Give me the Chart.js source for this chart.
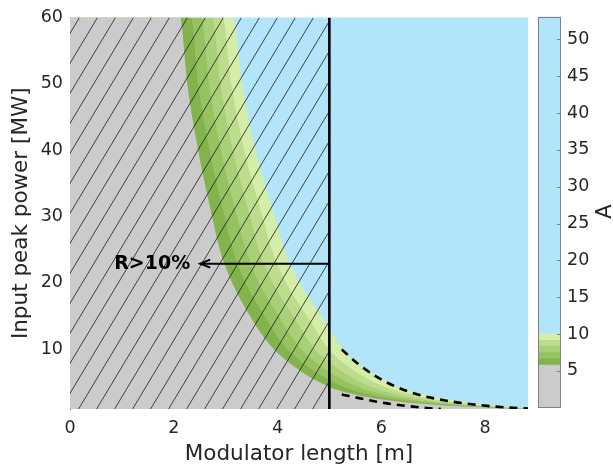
<!DOCTYPE html>
<html>
<head>
<meta charset="utf-8">
<script src="https://cdn.jsdelivr.net/npm/chart.js@4.4.1/dist/chart.umd.min.js"></script>
<style>
  html, body { margin: 0; padding: 0; background: #fff; }
  #wrap { position: relative; width: 613px; height: 468px; }
  #main { position: absolute; left: 0; top: 0; }
  #cbar { position: absolute; left: 530px; top: 0; }
</style>
</head>
<body>
<div id="wrap">
  <canvas id="main" width="613" height="468"></canvas>
  <canvas id="cbar" width="83" height="468"></canvas>
</div>
<script>
// axis ticks
var xTicks = [0, 2, 4, 6, 8];
var yTicks = [10, 20, 30, 40, 50, 60];
var cbTicks = [5, 10, 15, 20, 25, 30, 35, 40, 45, 50];

// input peak power values where the contour edges were read [MW]
var powerLevels = [60, 50, 40, 30, 25, 20, 15, 12, 10, 8, 6, 5, 4, 3, 2.5, 2, 1.5, 1.2, 1];

// modulator length of each contour edge at those powers [m]
var edgeA58 = [2.12, 2.26, 2.47, 2.74, 2.89, 3.13, 3.47, 3.72, 3.93, 4.22, 4.58, 4.82, 5.10, 5.60, 5.95, 6.45, 7.25, 8.10, 8.70];
var edgeA66 = [2.33, 2.47, 2.69, 2.98, 3.14, 3.39, 3.75, 3.99, 4.19, 4.48, 4.85, 5.09, 5.38, 5.88, 6.22, 6.70, 7.46, 8.22, 8.76];
var edgeA75 = [2.53, 2.68, 2.91, 3.22, 3.39, 3.65, 4.02, 4.26, 4.46, 4.74, 5.12, 5.35, 5.65, 6.14, 6.47, 6.94, 7.65, 8.34, 8.82];
var edgeA83 = [2.74, 2.90, 3.14, 3.47, 3.64, 3.91, 4.30, 4.54, 4.72, 5.00, 5.38, 5.61, 5.92, 6.40, 6.72, 7.17, 7.84, 8.46, 8.88];
var edgeA92 = [2.94, 3.11, 3.36, 3.71, 3.89, 4.17, 4.57, 4.81, 4.99, 5.26, 5.64, 5.87, 6.18, 6.66, 6.97, 7.40, 8.03, 8.58, 8.94];
var edgeA10 = [3.15, 3.32, 3.58, 3.95, 4.13, 4.43, 4.85, 5.08, 5.26, 5.52, 5.90, 6.13, 6.44, 6.92, 7.22, 7.63, 8.22, 8.70, 9.00];

// dashed curves
var dashUpperX = [5.24, 5.57, 5.89, 6.27, 6.66, 7.05, 7.46, 7.88, 8.30, 8.83];
var dashUpperY = [9.96, 7.7, 5.95, 4.4, 3.3, 2.55, 2.0, 1.6, 1.3, 1.05];
var dashLowerX = [5.24, 5.66, 6.11, 6.56, 7.01, 7.15];
var dashLowerY = [3.2, 2.5, 1.85, 1.4, 1.05, 1.0];

// limit line and arrow
var limitX = 5;
var arrowY = 22.9;
var arrowTipX = 2.51;
var arrowText = 'R>10%';

// colour scale of A
var cbEdges = [0.1, 5.8, 6.64, 7.48, 8.32, 9.16, 10, 53.1];
var cbColors = ['#cbcbcb', '#82b34d', '#96c262', '#a9cf77', '#bddc8d', '#d4eda8', '#b2e4fa'];

var txtColor = '#262626';
var fontFam = '"DejaVu Sans", sans-serif';
var tickSize = 17.5;

function edgePoints(xs) {
  var pts = [{ x: 0, y: powerLevels[0] }];
  for (var i = 0; i < xs.length; i++) {
    pts.push({ x: xs[i], y: powerLevels[i] });
  }
  return pts;
}

function makeHatch() {
  var c = document.createElement('canvas');
  c.width = 18; c.height = 30;
  var g = c.getContext('2d');
  g.strokeStyle = '#1a1a1a';
  g.lineWidth = 0.8;
  [-18, 0, 18].forEach(function (dx) {
    g.beginPath();
    g.moveTo(dx, 30);
    g.lineTo(dx + 18, 0);
    g.stroke();
  });
  return g.createPattern(c, 'repeat');
}

function fillSet(xs, color, ord) {
  return {
    data: edgePoints(xs),
    backgroundColor: color,
    borderWidth: 0,
    pointRadius: 0,
    fill: 'start',
    cubicInterpolationMode: 'monotone',
    order: ord
  };
}

function dashSet(xs, ys, ord) {
  return {
    data: xs.map(function (x, i) { return { x: x, y: ys[i] }; }),
    borderColor: '#000',
    borderWidth: 2.6,
    borderDash: [8, 6],
    pointRadius: 0,
    fill: false,
    cubicInterpolationMode: 'monotone',
    order: ord
  };
}

// blue background of the plot
var plotBg = {
  id: 'plotBg',
  beforeDatasetsDraw: function (chart) {
    var a = chart.chartArea, ctx = chart.ctx;
    ctx.save();
    ctx.fillStyle = cbColors[cbColors.length - 1];
    ctx.fillRect(a.left, a.top, a.right - a.left, a.bottom - a.top);
    ctx.restore();
  }
};

// arrow with label
var arrowPlugin = {
  id: 'arrowPlugin',
  afterDatasetsDraw: function (chart) {
    var ctx = chart.ctx, xs = chart.scales.x, ys = chart.scales.y;
    var x0 = xs.getPixelForValue(limitX);
    var x1 = xs.getPixelForValue(arrowTipX);
    var y = ys.getPixelForValue(arrowY);
    ctx.save();
    ctx.strokeStyle = '#000';
    ctx.lineWidth = 2;
    ctx.beginPath();
    ctx.moveTo(x0, y);
    ctx.lineTo(x1, y);
    ctx.stroke();
    ctx.beginPath();
    ctx.moveTo(x1 + 10, y - 4);
    ctx.lineTo(x1, y);
    ctx.lineTo(x1 + 10, y + 4);
    ctx.stroke();
    ctx.fillStyle = '#000';
    ctx.font = 'bold 19px ' + fontFam;
    ctx.textAlign = 'right';
    ctx.textBaseline = 'middle';
    ctx.fillText(arrowText, x1 - 10, y);
    ctx.restore();
  }
};

var datasets = [
  fillSet(edgeA10, cbColors[5], 20),
  fillSet(edgeA92, cbColors[4], 19),
  fillSet(edgeA83, cbColors[3], 18),
  fillSet(edgeA75, cbColors[2], 17),
  fillSet(edgeA66, cbColors[1], 16),
  fillSet(edgeA58, cbColors[0], 15),
  {
    data: [{ x: 0, y: 60 }, { x: limitX, y: 60 }],
    backgroundColor: makeHatch(),
    borderWidth: 0,
    pointRadius: 0,
    fill: 'start',
    order: 10
  },
  dashSet(dashUpperX, dashUpperY, 5),
  dashSet(dashLowerX, dashLowerY, 4),
  {
    data: [{ x: limitX, y: 1 }, { x: limitX, y: 60 }],
    borderColor: '#000',
    borderWidth: 2.6,
    pointRadius: 0,
    fill: false,
    order: 1
  }
];

new Chart(document.getElementById('main'), {
  type: 'line',
  data: { datasets: datasets },
  options: {
    responsive: false,
    animation: false,
    devicePixelRatio: 1,
    layout: { padding: { left: 0, top: 15, right: 85, bottom: 0 } },
    plugins: { legend: { display: false }, tooltip: { enabled: false } },
    scales: {
      x: {
        type: 'linear',
        min: 0,
        max: 8.83,
        afterBuildTicks: function (s) { s.ticks = xTicks.map(function (v) { return { value: v }; }); },
        afterFit: function (s) { s.height = 59; },
        grid: { display: false, drawTicks: false },
        border: { display: false },
        ticks: { color: txtColor, font: { family: fontFam, size: tickSize }, padding: 9, maxRotation: 0 },
        title: { display: true, text: 'Modulator length [m]', color: txtColor, font: { family: fontFam, size: 21.5 }, padding: { top: 0, bottom: 1 } }
      },
      y: {
        type: 'linear',
        min: 1,
        max: 60,
        afterBuildTicks: function (s) { s.ticks = yTicks.map(function (v) { return { value: v }; }); },
        afterFit: function (s) { s.width = 70; },
        grid: { display: false, drawTicks: false },
        border: { display: true, color: '#4d4d4d', width: 1 },
        ticks: { color: txtColor, font: { family: fontFam, size: tickSize }, padding: 7 },
        title: { display: true, text: 'Input peak power [MW]', color: txtColor, font: { family: fontFam, size: 21.5 }, padding: { top: 9, bottom: 0 } }
      }
    }
  },
  plugins: [plotBg, arrowPlugin]
});

// colour bar
var cbFrame = {
  id: 'cbFrame',
  afterDatasetsDraw: function (chart) {
    var a = chart.chartArea, ctx = chart.ctx, ys = chart.scales.y;
    ctx.save();
    ctx.strokeStyle = '#808080';
    ctx.lineWidth = 1;
    ctx.strokeRect(Math.round(a.left) + 0.5, Math.round(a.top) + 0.5, Math.round(a.right - a.left) - 1, Math.round(a.bottom - a.top) - 1);
    cbTicks.forEach(function (v) {
      var y = Math.round(ys.getPixelForValue(v)) + 0.5;
      ctx.beginPath();
      ctx.moveTo(a.right - 4, y);
      ctx.lineTo(a.right, y);
      ctx.stroke();
    });
    ctx.fillStyle = txtColor;
    ctx.font = '21.5px ' + fontFam;
    ctx.textAlign = 'center';
    ctx.textBaseline = 'middle';
    ctx.translate(75, (a.top + a.bottom) / 2);
    ctx.rotate(-Math.PI / 2);
    ctx.fillText('A', 0, 0);
    ctx.restore();
  }
};

new Chart(document.getElementById('cbar'), {
  type: 'bar',
  data: {
    labels: ['A'],
    datasets: cbColors.map(function (c, i) {
      return {
        data: [[cbEdges[i], cbEdges[i + 1]]],
        backgroundColor: c,
        borderWidth: 0,
        grouped: false,
        barPercentage: 1,
        categoryPercentage: 1
      };
    })
  },
  options: {
    responsive: false,
    animation: false,
    devicePixelRatio: 1,
    layout: { padding: { left: 8, top: 15, right: 0, bottom: 61 } },
    plugins: { legend: { display: false }, tooltip: { enabled: false } },
    scales: {
      x: { display: false },
      y: {
        position: 'right',
        min: cbEdges[0],
        max: cbEdges[cbEdges.length - 1],
        afterBuildTicks: function (s) { s.ticks = cbTicks.map(function (v) { return { value: v }; }); },
        afterFit: function (s) { s.width = 52; },
        grid: { display: false, drawTicks: false },
        border: { display: false },
        ticks: { color: txtColor, font: { family: fontFam, size: tickSize }, padding: 6 }
      }
    }
  },
  plugins: [cbFrame]
});
</script>
</body>
</html>
